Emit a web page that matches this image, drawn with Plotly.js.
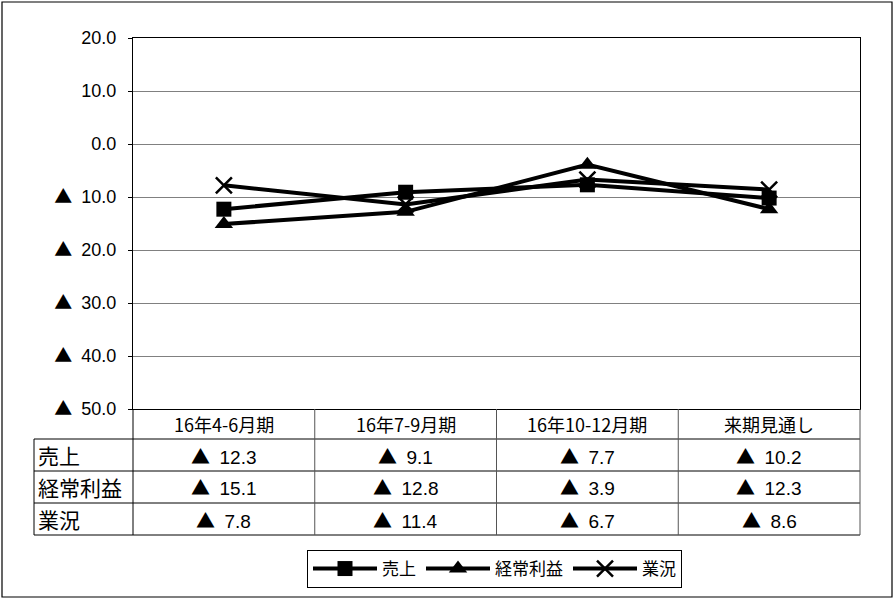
<!DOCTYPE html>
<html>
<head>
<meta charset="utf-8">
<script src="https://cdn.plot.ly/plotly-3.0.1.min.js"></script>
<style>html,body{margin:0;padding:0;background:#fff;}</style>
</head>
<body>
<div id="chart" style="width:895px;height:601px;"></div>
<script>
// Quarterly survey results (year-on-year DI, ▲ = negative)
const categories = ['16年4-6月期', '16年7-9月期', '16年10-12月期', '来期見通し'];
const seriesNames = ['売上', '経常利益', '業況'];
const sales = [-12.3, -9.1, -7.7, -10.2];
const ordinaryProfit = [-15.1, -12.8, -3.9, -12.3];
const businessConditions = [-7.8, -11.4, -6.7, -8.6];
const yTickVals = [20, 10, 0, -10, -20, -30, -40, -50];

const W = 895, H = 601;
const M = {l: 133, r: 35, t: 38, b: 192};
const plotW = W - M.l - M.r, plotH = H - M.t - M.b;
// pixel -> paper helpers for the table and frame drawn under the plot
const px = p => (p - M.l) / plotW;
const py = p => (H - M.b - p) / plotH;

// full-width triangle marks negative numbers
const TRI = '<span style="font-family:Noto Sans CJK JP">▲</span>';
const fmt = v => (v < 0 ? TRI + '\u2002' + Math.abs(v).toFixed(1) : v.toFixed(1));
const yTickText = yTickVals.map(fmt);

const NUM_FONT = 'Liberation Sans, Arial, "Noto Sans CJK JP", sans-serif';
const JP_FONT = '"Noto Sans CJK JP", sans-serif';

const seriesValues = [sales, ordinaryProfit, businessConditions];
const markers = [
  {symbol: 'square', size: 15, color: '#000'},
  {symbol: 'triangle-up', size: 16, color: '#000'},
  {symbol: 'x-thin-open', size: 16, color: '#000', line: {color: '#000', width: 2.5}}
];

const traces = seriesValues.map((vals, i) => ({
  type: 'scatter',
  mode: 'lines+markers',
  name: seriesNames[i],
  x: categories,
  y: vals,
  line: {color: '#000', width: 4},
  marker: markers[i],
  cliponaxis: false
}));

// Data table beneath the plot
const rowTop = 409, headerBottom = 439, rowH = 32, tableLeft = 34;
const shapes = [];
const annotations = [];

// outer frame
shapes.push({type: 'rect', xref: 'paper', yref: 'paper',
  x0: px(2), x1: px(892), y0: py(2), y1: py(597),
  line: {color: '#000', width: 1.2}, fillcolor: 'rgba(0,0,0,0)'});

// horizontal rules
shapes.push({type: 'line', xref: 'paper', yref: 'paper', x0: px(tableLeft), x1: 1,
  y0: py(headerBottom), y1: py(headerBottom), line: {color: '#000', width: 1}});
seriesNames.forEach((n, k) => {
  const yy = headerBottom + rowH * (k + 1);
  shapes.push({type: 'line', xref: 'paper', yref: 'paper', x0: px(tableLeft), x1: 1,
    y0: py(yy), y1: py(yy), line: {color: '#000', width: 1}});
});
const tableBottom = headerBottom + rowH * seriesNames.length;

// vertical rules
shapes.push({type: 'line', xref: 'paper', yref: 'paper', x0: px(tableLeft), x1: px(tableLeft),
  y0: py(headerBottom), y1: py(tableBottom), line: {color: '#000', width: 1}});
shapes.push({type: 'line', xref: 'paper', yref: 'paper', x0: 0, x1: 0,
  y0: py(rowTop), y1: py(tableBottom), line: {color: '#000', width: 1}});
shapes.push({type: 'line', xref: 'paper', yref: 'paper', x0: 1, x1: 1,
  y0: py(rowTop), y1: py(tableBottom), line: {color: '#555', width: 1}});
for (let i = 1; i < categories.length; i++) {
  shapes.push({type: 'line', xref: 'x', yref: 'paper', x0: i - 0.5, x1: i - 0.5,
    y0: py(rowTop), y1: py(tableBottom), line: {color: '#555', width: 1}});
}

// header cells
categories.forEach(c => {
  annotations.push({xref: 'x', yref: 'paper', x: c, y: py((rowTop + headerBottom) / 2),
    text: c, showarrow: false, xanchor: 'center', yanchor: 'middle',
    font: {family: JP_FONT, size: 18, color: '#000'}});
});
// row labels and values
seriesNames.forEach((n, k) => {
  const cy = headerBottom + rowH * k + rowH / 2;
  annotations.push({xref: 'paper', yref: 'paper', x: px(tableLeft + 2), y: py(cy),
    text: n, showarrow: false, xanchor: 'left', yanchor: 'middle',
    font: {family: JP_FONT, size: 21, color: '#000'}});
  seriesValues[k].forEach((v, i) => {
    annotations.push({xref: 'x', yref: 'paper', x: categories[i], y: py(cy),
      text: fmt(v), showarrow: false, xanchor: 'center', yanchor: 'middle',
      font: {family: NUM_FONT, size: 19, color: '#000'}});
  });
});

const layout = {
  width: W, height: H,
  margin: M,
  paper_bgcolor: '#fff', plot_bgcolor: '#fff',
  showlegend: true,
  legend: {
    orientation: 'h', x: px(494.5), xanchor: 'center', y: py(550), yanchor: 'top',
    bordercolor: '#000', borderwidth: 1, bgcolor: '#fff',
    font: {family: JP_FONT, size: 17, color: '#000'},
    itemwidth: 64, traceorder: 'normal'
  },
  xaxis: {
    type: 'category', categoryarray: categories, range: [-0.5, categories.length - 0.5],
    showticklabels: false, ticks: '', showgrid: false, zeroline: false,
    showline: true, mirror: true, linecolor: '#000', linewidth: 1, fixedrange: true
  },
  yaxis: {
    range: [-50, 20], tickmode: 'array', tickvals: yTickVals, ticktext: yTickText,
    showgrid: true, gridcolor: '#808080', gridwidth: 1, zeroline: false,
    showline: true, mirror: true, linecolor: '#000', linewidth: 1,
    ticks: 'outside', ticklen: 4, tickcolor: '#000', ticklabelstandoff: 8,
    tickfont: {family: NUM_FONT, size: 18, color: '#000'}, fixedrange: true
  },
  shapes: shapes,
  annotations: annotations
};

Plotly.newPlot('chart', traces, layout, {displayModeBar: false, staticPlot: true});
</script>
</body>
</html>
